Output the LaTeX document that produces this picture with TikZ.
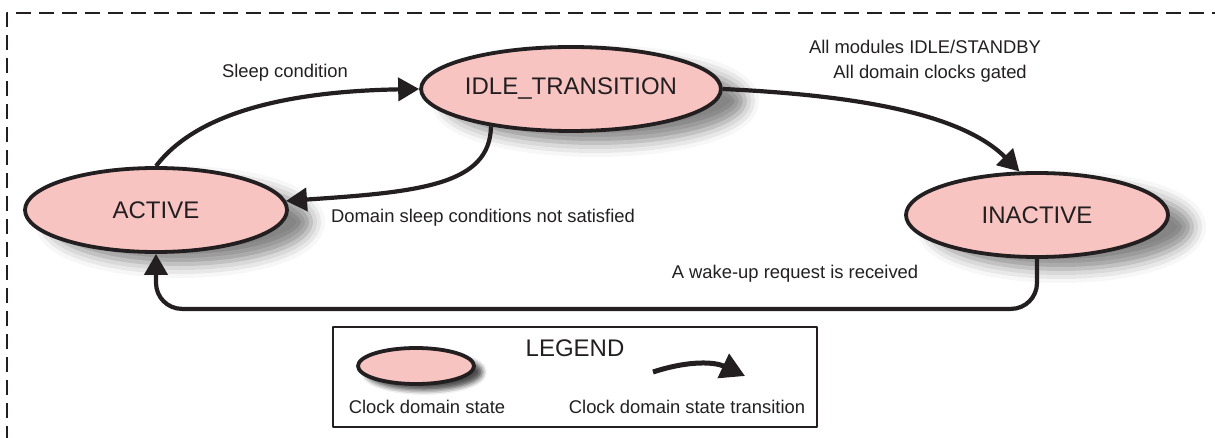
\documentclass[tikz,border=0pt]{standalone}
\usepackage{fontspec}
\setmainfont{Liberation Sans}
\usetikzlibrary{shapes.geometric,arrows.meta,shadows.blur}
\definecolor{statefill}{HTML}{F7C4C2}
\definecolor{ink}{HTML}{231F20}
\begin{document}
\begin{tikzpicture}[x=.5pt,y=-.5pt,line join=round,
 state/.style={ellipse,draw=ink,line width=1.9pt,fill=statefill,text=ink,font=\fontsize{12}{14}\selectfont,inner sep=0pt,minimum width=131pt,minimum height=42pt,
  blur shadow={shadow xshift=12pt,shadow yshift=-6pt,shadow blur radius=7pt,shadow opacity=48}},
 trans/.style={draw=ink,line width=2.1pt,-{Triangle[length=10.5pt,width=11.5pt]}},
 lbl/.style={text=ink,font=\fontsize{9.2}{12.5}\selectfont,inner sep=0pt,align=center}]
\useasboundingbox (0,0) rectangle (1215,438);
\draw[ink,line width=1.3pt,dash pattern=on 7.5pt off 4pt] (7,441) |- (1230,13);
% states
\path (156,210) node[state] (active) {ACTIVE}
 (571,89) node[state,minimum width=148pt] (idle) {IDLE\_TRANSITION}
 (1037,215) node[state] (inactive) {INACTIVE};
% transitions
\draw[trans] (active.north) .. controls (185,128) and (250,92) .. (idle.west);
\draw[trans] (idle.205) .. controls (490,185) and (420,192) .. (active.4);
\draw[trans] (idle.east) .. controls (850,95) and (960,112) .. (inactive.112);
\draw[trans,rounded corners=13pt] (inactive.south) -- ++(0,50) -| (active.south);
\path (285,73) node[lbl] (l1) {Sleep condition}
 (925,61) node[lbl] (l2) {All modules IDLE/STANDBY\\ \ \ All domain clocks gated}
 (483,218) node[lbl] (l3) {Domain sleep conditions not satisfied}
 (795,274) node[lbl] (l4) {A wake-up request is received};
% legend
\node[draw=ink,line width=1.1pt,minimum width=242pt,minimum height=50pt,inner sep=0pt] (legend) at (575,377) {};
\node[text=ink,font=\fontsize{12}{14}\selectfont] (legtitle) at (575,348) {LEGEND};
\node[state,minimum width=58pt,minimum height=18pt,blur shadow={shadow xshift=4pt,shadow yshift=-3pt,shadow blur radius=2.5pt,shadow opacity=45}] (keystate) at (416,366) {};
\coordinate (k1) at (653,372); \coordinate (k2) at (745,376);
\draw[trans,line width=2.5pt,-{Triangle[length=12pt,width=13pt]}] (k1) .. controls (690,360) and (715,362) .. (k2);
\path (427,407) node[lbl] (k3) {Clock domain state}
 (687,407) node[lbl] (k4) {Clock domain state transition};
\end{tikzpicture}
\end{document}
